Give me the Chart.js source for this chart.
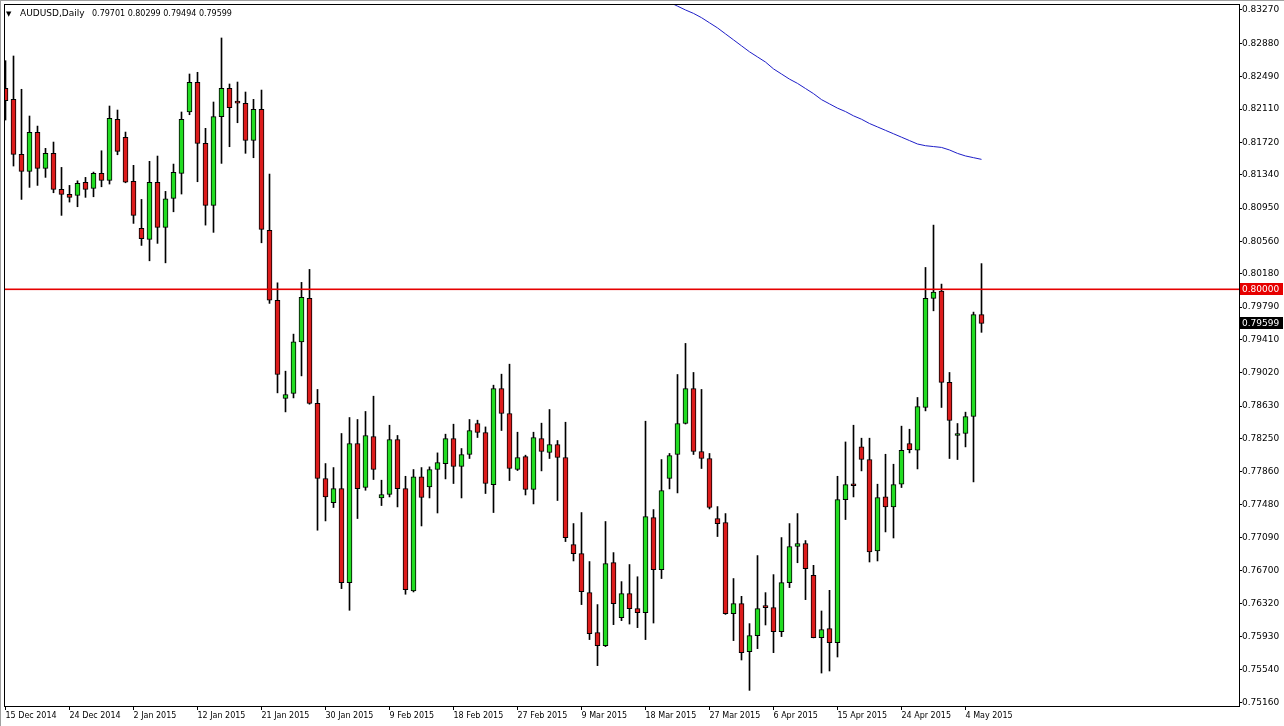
<!DOCTYPE html>
<html>
<head>
<meta charset="utf-8">
<title>AUDUSD,Daily</title>
<script src="https://cdn.jsdelivr.net/npm/chart.js@4.4.0/dist/chart.umd.min.js"></script>
<style>
  html, body { margin: 0; padding: 0; background: #fff; }
  #priceChart { display: block; }
</style>
</head>
<body>
<canvas id="priceChart" width="1284" height="726"></canvas>
<script>
// symbol / timeframe shown in the corner
var symbolName = "AUDUSD";
var timeframe = "Daily";

// daily candles, 15 Dec 2014 .. 6 May 2015 (one value per bar)
var opens = [
  0.82352, 0.82223, 0.81579, 0.81380, 0.81837, 0.81415, 0.81591, 0.81169, 0.81110, 0.81098,
  0.81251, 0.81180, 0.81356, 0.81274, 0.81989, 0.81778, 0.81262, 0.80712, 0.80583, 0.81251,
  0.80723, 0.81063, 0.81356, 0.82075, 0.82423, 0.81708, 0.80981, 0.82020, 0.82352, 0.82180,
  0.82177, 0.81743, 0.82106, 0.80688, 0.79868, 0.78719, 0.78778, 0.79382, 0.79891, 0.78661,
  0.77782, 0.77500, 0.77664, 0.76563, 0.78192, 0.77676, 0.78274, 0.77554, 0.77594, 0.78239,
  0.77664, 0.76464, 0.77800, 0.77683, 0.77887, 0.77957, 0.78250, 0.77922, 0.78063, 0.78426,
  0.78321, 0.77711, 0.78836, 0.78543, 0.77887, 0.78039, 0.77653, 0.78250, 0.78086, 0.78180,
  0.78028, 0.77008, 0.76902, 0.76445, 0.75977, 0.75824, 0.76797, 0.76152, 0.76434, 0.76258,
  0.76211, 0.77324, 0.76715, 0.77782, 0.78063, 0.78426, 0.78836, 0.78098, 0.78016, 0.77313,
  0.77266, 0.76199, 0.76317, 0.75754, 0.75942, 0.76293, 0.76270, 0.75988, 0.76563, 0.76985,
  0.77020, 0.76648, 0.75918, 0.76024, 0.75859, 0.77535, 0.77699, 0.78152, 0.78004, 0.76933,
  0.77566, 0.77449, 0.77715, 0.78192, 0.78113, 0.78614, 0.79891, 0.79977, 0.78907, 0.78286,
  0.78309, 0.78508, 0.79701
];
var highs = [
  0.82676, 0.82731, 0.82341, 0.82028, 0.81910, 0.81649, 0.81723, 0.81426, 0.81215, 0.81269,
  0.81309, 0.81371, 0.81621, 0.82145, 0.82098, 0.81840, 0.81450, 0.81051, 0.81497, 0.81559,
  0.81145, 0.81465, 0.82075, 0.82520, 0.82540, 0.81884, 0.82192, 0.82942, 0.82403, 0.82426,
  0.82309, 0.82223, 0.82332, 0.81348, 0.80074, 0.79039, 0.79473, 0.80079, 0.80231, 0.78825,
  0.77957, 0.77910, 0.78309, 0.78496, 0.78473, 0.78567, 0.78746, 0.77762, 0.78406, 0.78286,
  0.77808, 0.77887, 0.77910, 0.77918, 0.78082, 0.78301, 0.78418, 0.78133, 0.78473, 0.78465,
  0.78386, 0.78875, 0.79004, 0.79121, 0.78324, 0.78055, 0.78324, 0.78430, 0.78590, 0.78227,
  0.78441, 0.77254, 0.77383, 0.76809, 0.76305, 0.77278, 0.76914, 0.76574, 0.76774, 0.76631,
  0.78453, 0.77418, 0.78004, 0.78075, 0.79000, 0.79364, 0.79024, 0.78825, 0.78075, 0.77453,
  0.77371, 0.76610, 0.76402, 0.76082, 0.76879, 0.76445, 0.76656, 0.77090, 0.77254, 0.77371,
  0.77055, 0.76765, 0.76230, 0.76472, 0.77808, 0.78210, 0.78406, 0.78254, 0.78254, 0.77715,
  0.78066, 0.77949, 0.78395, 0.78359, 0.78731, 0.80254, 0.80750, 0.80059, 0.79024, 0.78426,
  0.78559, 0.79731, 0.80299
];
var lows = [
  0.81981, 0.81442, 0.81051, 0.81192, 0.81215, 0.81309, 0.81129, 0.80864, 0.81020, 0.80965,
  0.81075, 0.81082, 0.81199, 0.81231, 0.81574, 0.81246, 0.80770, 0.80512, 0.80332, 0.80536,
  0.80308, 0.80906, 0.81114, 0.82043, 0.81258, 0.80750, 0.80665, 0.81473, 0.81668, 0.81949,
  0.81591, 0.81539, 0.80543, 0.79833, 0.78785, 0.78562, 0.78726, 0.78984, 0.78652, 0.77176,
  0.77285, 0.77442, 0.76492, 0.76238, 0.77313, 0.77644, 0.77770, 0.77465, 0.77566, 0.77449,
  0.76426, 0.76453, 0.77226, 0.77554, 0.77378, 0.77777, 0.77723, 0.77554, 0.78016, 0.78262,
  0.77606, 0.77383, 0.78344, 0.77758, 0.77875, 0.77589, 0.77484, 0.77871, 0.78016, 0.77524,
  0.77043, 0.76816, 0.76305, 0.75895, 0.75590, 0.75813, 0.76070, 0.76117, 0.76077, 0.76035,
  0.75895, 0.76089, 0.76610, 0.77660, 0.77613, 0.78420, 0.78063, 0.77899, 0.77425, 0.77102,
  0.76190, 0.75883, 0.75656, 0.75300, 0.75789, 0.76066, 0.75742, 0.75930, 0.76504, 0.76795,
  0.76363, 0.75915, 0.75503, 0.75527, 0.75691, 0.77301, 0.77566, 0.77871, 0.76804, 0.76816,
  0.77156, 0.77085, 0.77676, 0.78082, 0.77894, 0.78574, 0.79746, 0.78614, 0.78016, 0.78004,
  0.78152, 0.77742, 0.79494
];
var closes = [
  0.82207, 0.81579, 0.81380, 0.81837, 0.81415, 0.81591, 0.81169, 0.81110, 0.81075, 0.81239,
  0.81169, 0.81356, 0.81274, 0.82001, 0.81614, 0.81254, 0.80864, 0.80590, 0.81251, 0.80723,
  0.81058, 0.81368, 0.81989, 0.82423, 0.81708, 0.80981, 0.82020, 0.82352, 0.82125, 0.82178,
  0.81743, 0.82106, 0.80700, 0.79871, 0.79000, 0.78766, 0.79382, 0.79903, 0.78661, 0.77782,
  0.77566, 0.77664, 0.76563, 0.78192, 0.77664, 0.78286, 0.77887, 0.77594, 0.78239, 0.77664,
  0.76481, 0.77800, 0.77559, 0.77887, 0.77969, 0.78250, 0.77922, 0.78063, 0.78344, 0.78321,
  0.77723, 0.78836, 0.78543, 0.77899, 0.78028, 0.77653, 0.78262, 0.78098, 0.78180, 0.78028,
  0.77090, 0.76902, 0.76457, 0.75965, 0.75824, 0.76785, 0.76317, 0.76434, 0.76258, 0.76211,
  0.77336, 0.76715, 0.77641, 0.78051, 0.78426, 0.78836, 0.78098, 0.78016, 0.77442, 0.77254,
  0.76199, 0.76317, 0.75742, 0.75942, 0.76258, 0.76270, 0.75988, 0.76563, 0.76985, 0.77020,
  0.76727, 0.75918, 0.76012, 0.75859, 0.77535, 0.77711, 0.77697, 0.78004, 0.76921, 0.77559,
  0.77449, 0.77711, 0.78113, 0.78121, 0.78625, 0.79891, 0.79965, 0.78907, 0.78461, 0.78309,
  0.78508, 0.79701, 0.79599
];

// moving average, visible from bar 80 on (it runs off the top before that)
var maStartIndex = 80;
var maValues = [
  0.8348, 0.8344, 0.8340, 0.8336, 0.83315, 0.8327, 0.8323, 0.8318, 0.8312, 0.8306,
  0.8299, 0.8292, 0.8285, 0.8278, 0.8272, 0.8266, 0.8258, 0.8252, 0.8246, 0.8241,
  0.8235, 0.8229, 0.8222, 0.8217, 0.8212, 0.8208, 0.8203, 0.8199, 0.8194, 0.8190,
  0.8186, 0.8182, 0.8178, 0.8174, 0.8170, 0.8168, 0.8167, 0.8166, 0.8163, 0.8159,
  0.8156, 0.8154, 0.8152
];

// horizontal level
var levelPrice = 0.80000;

// axis labels
var dateLabels = ["15 Dec 2014", "24 Dec 2014", "2 Jan 2015", "12 Jan 2015", "21 Jan 2015",
  "30 Jan 2015", "9 Feb 2015", "18 Feb 2015", "27 Feb 2015", "9 Mar 2015", "18 Mar 2015",
  "27 Mar 2015", "6 Apr 2015", "15 Apr 2015", "24 Apr 2015", "4 May 2015"];
var dateEvery = 8; // one date label every 8 bars
var priceTicks = [0.83270, 0.82880, 0.82490, 0.82110, 0.81720, 0.81340, 0.80950, 0.80560,
  0.80180, 0.79790, 0.79410, 0.79020, 0.78630, 0.78250, 0.77860, 0.77480, 0.77090, 0.76700,
  0.76320, 0.75930, 0.75540, 0.75160];

var bullColor = "#22dc22";
var bearColor = "#dc1c1c";
var maColor = "#1e1ec8";
var levelColor = "#e60000";

Chart.defaults.font.family = "'DejaVu Sans', sans-serif";
Chart.defaults.color = "#000";

var bodyData = opens.map(function (o, i) { return { x: i, y: [o, closes[i]] }; });
var wickData = lows.map(function (l, i) { return { x: i, y: [l, highs[i]] }; });
var bodyColors = opens.map(function (o, i) { return closes[i] >= o ? bullColor : bearColor; });
var maData = maValues.map(function (v, i) { return { x: maStartIndex + i, y: v }; });

var last = opens.length - 1;

var overlayPlugin = {
    id: "overlay",
    beforeDraw: function (chart) {
        var ctx = chart.ctx;
        ctx.save();
        ctx.fillStyle = "#fff";
        ctx.fillRect(0, 0, chart.width, chart.height);
        ctx.fillStyle = "#a0a0a0";
        ctx.fillRect(0, 0, chart.width, 1);
        ctx.fillRect(0, 0, 1, chart.height);
        ctx.restore();
    },
    afterDatasetsDraw: function (chart) {
        var ctx = chart.ctx, a = chart.chartArea;
        var row = Math.round(chart.scales.y.getPixelForValue(levelPrice));
        ctx.save();
        // level line (red); a touch heavier so it keeps its colour
        ctx.fillStyle = levelColor;
        ctx.fillRect(a.left, row - 0.5, a.right - a.left, 1.6);
        // frame
        ctx.strokeStyle = "#000";
        ctx.lineWidth = 1;
        ctx.strokeRect(a.left + 0.5, a.top + 0.5, a.right - a.left, a.bottom - a.top);
        ctx.restore();
    },
    afterDraw: function (chart) {
        var ctx = chart.ctx, a = chart.chartArea, ys = chart.scales.y;
        ctx.save();
        // price tags on the axis
        function tag(price, bg) {
            var py = Math.round(ys.getPixelForValue(price));
            ctx.fillStyle = bg;
            ctx.fillRect(a.right + 1, py - 6, chart.width - a.right - 2, 12);
            ctx.fillStyle = "#fff";
            ctx.font = "9px 'DejaVu Sans'";
            ctx.textBaseline = "middle";
            ctx.textAlign = "left";
            ctx.fillText(price.toFixed(5), a.right + 3, py + 0.5);
        }
        tag(levelPrice, levelColor);
        tag(closes[last], "#000");

        // title
        ctx.fillStyle = "#000";
        ctx.textBaseline = "alphabetic";
        ctx.font = "7px 'DejaVu Sans'";
        ctx.fillText("\u25BC", 6, 16);
        ctx.font = "9px 'DejaVu Sans'";
        ctx.fillText(symbolName + "," + timeframe, 20, 16);
        ctx.font = "8px 'DejaVu Sans'";
        ctx.fillText([opens[last], highs[last], lows[last], closes[last]].map(function (v) {
            return v.toFixed(5);
        }).join(" "), 92, 16);
        ctx.restore();
    }
};

var ctx = document.getElementById("priceChart").getContext("2d");
var priceChart = new Chart(ctx, {
    type: "bar",
    data: {
        datasets: [
            {
                type: "line",
                label: "MA",
                data: maData,
                borderColor: maColor,
                borderWidth: 1,
                pointRadius: 0,
                fill: false,
                tension: 0,
                order: 0
            },
            {
                label: "body",
                data: bodyData,
                backgroundColor: bodyColors,
                borderColor: "#000",
                borderWidth: 1,
                borderSkipped: false,
                barThickness: 5,
                minBarLength: 2,
                grouped: false,
                order: 1
            },
            {
                label: "wick",
                data: wickData,
                backgroundColor: "#000",
                borderWidth: 0,
                barThickness: 1,
                grouped: false,
                order: 2
            }
        ]
    },
    options: {
        responsive: false,
        animation: false,
        layout: { padding: { left: 4, top: 4, right: 0, bottom: 0 } },
        plugins: {
            legend: { display: false },
            tooltip: { enabled: false }
        },
        scales: {
            x: {
                type: "linear",
                position: "bottom",
                offset: false,
                min: -0.1875,
                max: 154.1875,
                grid: { drawOnChartArea: false, offset: false, tickLength: 4, color: "#000" },
                border: { display: false },
                afterBuildTicks: function (scale) {
                    scale.ticks = dateLabels.map(function (d, j) { return { value: j * dateEvery }; });
                },
                ticks: {
                    autoSkip: false,
                    maxRotation: 0,
                    align: "start",
                    padding: 1,
                    font: { size: 8 },
                    callback: function (v) { return dateLabels[Math.round(v / dateEvery)]; }
                },
                afterFit: function (scale) {
                    scale.height = 20;
                    scale.paddingLeft = 0;
                    scale.paddingRight = 0;
                }
            },
            y: {
                type: "linear",
                position: "right",
                min: 0.75117,
                max: 0.83340,
                grid: { drawOnChartArea: false, tickLength: 3, color: "#000" },
                border: { display: false },
                afterBuildTicks: function (scale) {
                    scale.ticks = priceTicks.map(function (v) { return { value: v }; });
                },
                ticks: {
                    autoSkip: false,
                    padding: 0,
                    font: { size: 9 },
                    callback: function (v) { return v.toFixed(5); }
                },
                afterFit: function (scale) {
                    scale.width = 45;
                    scale.paddingTop = 0;
                    scale.paddingBottom = 0;
                }
            }
        }
    },
    plugins: [overlayPlugin]
});
</script>
</body>
</html>
